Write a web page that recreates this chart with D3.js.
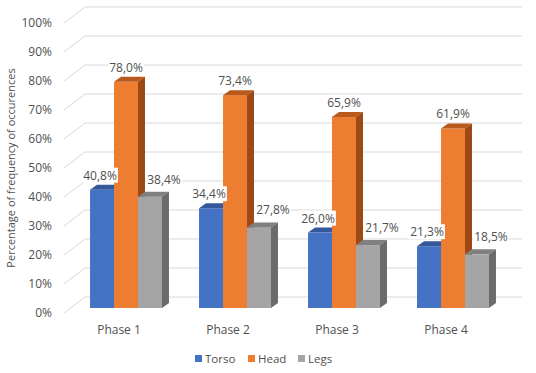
<!DOCTYPE html>
<html>
    <head>
        <meta charset="UTF-8">
        <script src="https://d3js.org/d3.v7.min.js"></script>
        <style>
            body { margin: 0; background: #fff; }
            text { font-family: "Open Sans", sans-serif; fill: #505050; }
        </style>
    </head>

    <body>

        <svg id="canvas"></svg>

        <script>

            width = 536;
            height = 373;

            phases = ["Phase 1", "Phase 2", "Phase 3", "Phase 4"];
            seriesNames = ["Torso", "Head", "Legs"];
            torso = [40.8, 34.4, 26.0, 21.3];
            head = [78.0, 73.4, 65.9, 61.9];
            legs = [38.4, 27.8, 21.7, 18.5];
            yTicks = [0, 10, 20, 30, 40, 50, 60, 70, 80, 90, 100];

            values = [torso, head, legs];
            front = ["#4472C4", "#ED7D31", "#A5A5A5"];
            topc = ["#34589B", "#B9591B", "#808080"];
            side = ["#2B4E8C", "#9C4916", "#6B6B6B"];

            // 3D offsets: wall depth and bar depth
            wallDx = 21, wallDy = -16;
            barDx = 7, barDy = -5;

            canvas = d3.select("#canvas")
                .attr("width", width)
                .attr("height", height);

            yFront = d3.scaleLinear().domain([0, 100]).range([313, 23]);
            yBar = d3.scaleLinear().domain([0, 100]).range([308, 18]);

            x = d3.scaleBand().domain(phases)
                .range([71.5, 507.5])
                .paddingInner(0.34).paddingOuter(0.17);
            xs = d3.scaleBand().domain(seriesNames).range([0, x.bandwidth()]);

            // gridlines (floor diagonal + back wall)
            grid = canvas.append("g");
            yTicks.forEach(function(t) {
                var y0 = yFront(t);
                grid.append("path")
                    .attr("d", "M64," + y0 + "L" + (64 + wallDx) + "," + (y0 + wallDy) + "H522")
                    .attr("fill", "none")
                    .attr("stroke", "#D9D9D9")
                    .attr("stroke-width", 1);
            });

            // y tick labels
            canvas.append("g").selectAll("text")
                .data(yTicks)
                .enter().append("text")
                    .attr("x", 52)
                    .attr("y", (d) => yFront(d) + 4)
                    .attr("text-anchor", "end")
                    .style("font-size", "12px")
                    .text((d) => d + "%");

            // axis title
            canvas.append("text")
                .attr("transform", "translate(15,168) rotate(-90)")
                .attr("text-anchor", "middle")
                .style("font-size", "11px")
                .text("Percentage of frequency of occurences");

            // bars
            bars = canvas.append("g");
            phases.forEach(function(p, i) {
                seriesNames.forEach(function(s, j) {
                    var v = values[j][i];
                    var x0 = x(p) + xs(s), x1 = x0 + xs.bandwidth();
                    var yt = yBar(v), yb = yBar(0);
                    bars.append("rect")
                        .attr("x", x0).attr("y", yt)
                        .attr("width", x1 - x0).attr("height", yb - yt)
                        .attr("fill", front[j]);
                    bars.append("path")
                        .attr("d", "M" + x0 + "," + yt + "L" + (x0 + barDx) + "," + (yt + barDy) +
                            "L" + (x1 + barDx) + "," + (yt + barDy) + "L" + x1 + "," + yt + "Z")
                        .attr("fill", topc[j]);
                    bars.append("path")
                        .attr("d", "M" + x1 + "," + yt + "L" + (x1 + barDx) + "," + (yt + barDy) +
                            "L" + (x1 + barDx) + "," + (yb + barDy) + "L" + x1 + "," + yb + "Z")
                        .attr("fill", side[j]);
                });
            });

            // value labels
            labelDx = [-2, 0, 14];
            labelDy = [-10, -10, -13];
            labels = canvas.append("g");
            phases.forEach(function(p, i) {
                seriesNames.forEach(function(s, j) {
                    var v = values[j][i];
                    var cx = x(p) + xs(s) + xs.bandwidth() / 2 + labelDx[j];
                    var cy = yBar(v) + labelDy[j];
                    var g = labels.append("g");
                    var t = g.append("text")
                        .attr("x", cx).attr("y", cy)
                        .attr("text-anchor", "middle")
                        .style("font-size", "12px")
                        .text(v.toFixed(1).replace(".", ",") + "%");
                    var b = t.node().getBBox();
                    g.insert("rect", "text")
                        .attr("x", b.x - 1).attr("y", b.y + 1)
                        .attr("width", b.width + 2).attr("height", b.height - 2)
                        .attr("fill", "#fff");
                });
            });

            // category labels
            canvas.append("g").selectAll("text")
                .data(phases)
                .enter().append("text")
                    .attr("x", (d) => x(d) + x.bandwidth() / 2 - 7)
                    .attr("y", 334)
                    .attr("text-anchor", "middle")
                    .style("font-size", "12px")
                    .text((d) => d);

            // legend
            legendX = [195, 248, 298];
            legend = canvas.append("g");
            seriesNames.forEach(function(s, j) {
                legend.append("rect")
                    .attr("x", legendX[j]).attr("y", 355)
                    .attr("width", 7).attr("height", 7)
                    .attr("fill", front[j]);
                legend.append("text")
                    .attr("x", legendX[j] + 10).attr("y", 363)
                    .style("font-size", "11.5px")
                    .text(s);
            });

        </script>

    </body>

</html>
